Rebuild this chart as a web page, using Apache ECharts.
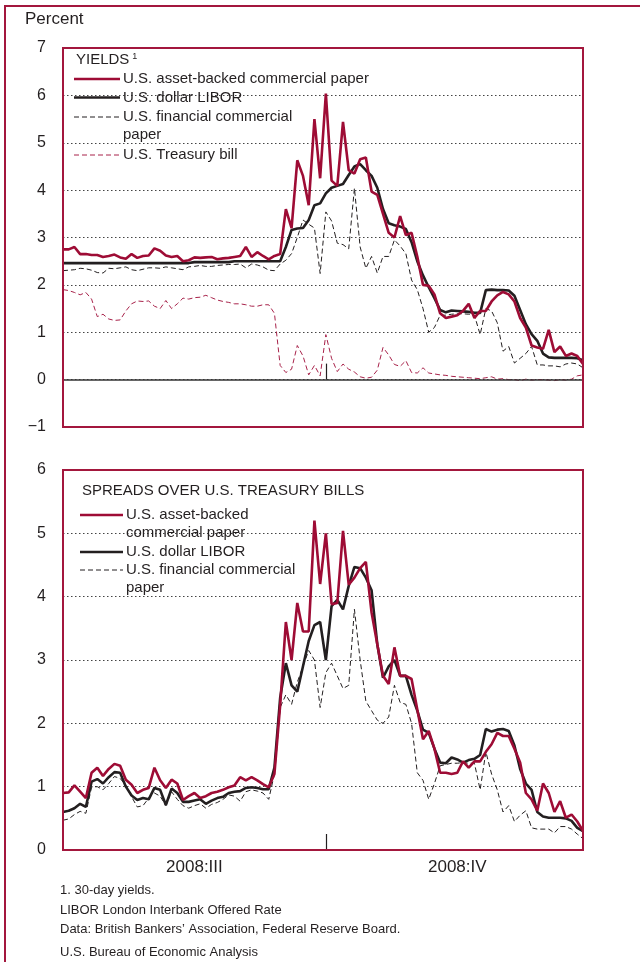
<!DOCTYPE html>
<html>
<head>
<meta charset="utf-8">
<title>Yields and spreads, 2008</title>
<script src="https://cdn.jsdelivr.net/npm/echarts@6.0.0/dist/echarts.min.js"></script>
<style>
  html, body { margin: 0; padding: 0; background: #fff; }
  #chart { width: 640px; height: 962px; }
</style>
</head>
<body>
<div id="chart"></div>
<script>
// every other calendar day, 2008-07-01 .. 2008-12-30 (92 points)
const days = [];
for (let d = new Date(Date.UTC(2008, 6, 1)); days.length < 92; d.setUTCDate(d.getUTCDate() + 2)) {
  days.push(d.toISOString().slice(0, 10));
}
const quarterLabels = ["2008:III", "2008:IV"];
const quarterLabelIdx = [23, 69];
const quarterTickIdx = 46; // 2008-10-01

// yields, percent
const abcpYield = [2.75, 2.75, 2.8, 2.65, 2.65, 2.63, 2.63, 2.59, 2.61, 2.64, 2.58, 2.55, 2.65, 2.57, 2.61, 2.62,
  2.77, 2.72, 2.62, 2.59, 2.61, 2.5, 2.52, 2.58, 2.57, 2.58, 2.59, 2.54, 2.56, 2.57, 2.59, 2.61,
  2.8, 2.59, 2.69, 2.61, 2.54, 2.61, 2.65, 3.6, 3.2, 4.63, 4.3, 3.68, 5.5, 4.25,
  6.04, 4.2, 4.09, 5.44, 4.42, 4.35, 4.65, 4.69, 3.97, 3.9, 3.5, 3.1, 3.0, 3.45, 3.05, 3.1,
  2.6, 2.0, 1.98, 1.8, 1.4, 1.3, 1.33, 1.36, 1.45, 1.6, 1.3, 1.45, 1.45, 1.65, 1.78, 1.85,
  1.8, 1.65, 1.3, 1.1, 0.72, 0.68, 0.65, 1.05, 0.58, 0.7, 0.5, 0.55, 0.5, 0.33];
const liborYield = [2.46, 2.46, 2.46, 2.46, 2.46, 2.46, 2.46, 2.46, 2.46, 2.46, 2.46, 2.46, 2.46, 2.46, 2.46, 2.46,
  2.46, 2.46, 2.46, 2.46, 2.46, 2.46, 2.46, 2.48, 2.48, 2.48, 2.48, 2.48, 2.48, 2.48, 2.5, 2.5,
  2.5, 2.5, 2.5, 2.5, 2.5, 2.5, 2.5, 2.8, 3.16, 3.19, 3.2, 3.37, 3.68, 3.72,
  3.93, 4.05, 4.09, 4.13, 4.32, 4.5, 4.55, 4.42, 4.3, 4.05, 3.6, 3.3, 3.26, 3.23, 3.18, 2.9,
  2.5, 2.2, 1.95, 1.72, 1.47, 1.42, 1.46, 1.45, 1.44, 1.43, 1.41, 1.41, 1.89, 1.9, 1.89, 1.89,
  1.88, 1.77, 1.47, 1.17, 0.96, 0.82, 0.55, 0.47, 0.46, 0.46, 0.46, 0.46, 0.45, 0.41];
const fincpYield = [2.3, 2.31, 2.32, 2.35, 2.34, 2.31, 2.26, 2.25, 2.35, 2.34, 2.36, 2.38, 2.32, 2.3, 2.33, 2.36,
  2.36, 2.35, 2.38, 2.36, 2.34, 2.32, 2.38, 2.39, 2.41, 2.39, 2.39, 2.41, 2.42, 2.43, 2.43, 2.44,
  2.36, 2.44, 2.42, 2.38, 2.31, 2.3, 2.44, 2.52, 2.66, 3.0, 3.37, 3.28, 3.2, 2.24,
  3.54, 3.35, 2.88, 2.85, 2.76, 4.04, 2.8, 2.35, 2.6, 2.25, 2.6, 2.6, 2.95, 2.82, 2.66, 2.1,
  1.9, 1.5, 1.0, 1.1, 1.36, 1.36, 1.38, 1.39, 1.39, 1.38, 1.36, 0.95, 1.5, 1.45, 1.2, 0.6,
  0.7, 0.35, 0.45, 0.55, 0.7, 0.31, 0.31, 0.29, 0.29, 0.27, 0.33, 0.35, 0.33, 0.25];
const tbillYield = [1.9, 1.88, 1.84, 1.79, 1.84, 1.7, 1.33, 1.38, 1.28, 1.25, 1.26, 1.45, 1.6, 1.66, 1.65, 1.66,
  1.55, 1.5, 1.67, 1.5, 1.6, 1.72, 1.7, 1.73, 1.74, 1.78, 1.73, 1.68, 1.65, 1.63, 1.6, 1.6,
  1.58, 1.55, 1.55, 1.58, 1.58, 1.4, 0.3, 0.15, 0.22, 0.72, 0.5, 0.1, 0.3, 0.08,
  0.95, 0.45, 0.17, 0.33, 0.22, 0.16, 0.06, 0.03, 0.05, 0.2, 0.68, 0.52, 0.32, 0.28, 0.4, 0.15,
  0.14, 0.25, 0.14, 0.12, 0.1, 0.09, 0.07, 0.06, 0.05, 0.04, 0.03, 0.02, 0.04, 0.06, 0.01, 0.02,
  0.0, 0.0, -0.02, 0.01, -0.01, 0.0, 0.0, -0.01, -0.02, 0.0, -0.01, 0.01, 0.08, 0.1];

// spreads over treasury bills, percentage points
const abcpSpread = [0.9, 0.91, 1.02, 0.92, 0.82, 1.22, 1.3, 1.17, 1.28, 1.36, 1.33, 1.11, 1.03, 0.9, 0.95, 0.98,
  1.3, 1.1, 0.98, 1.11, 1.05, 0.79, 0.85, 0.9, 0.82, 0.85, 0.9, 0.92, 0.95, 0.99, 1.02, 1.15,
  1.1, 1.15, 1.1, 1.04, 0.99, 1.2, 2.28, 3.6, 3.0, 3.9, 3.45, 3.45, 5.2, 4.2,
  5.0, 3.88, 3.9, 5.04, 4.19, 4.3, 4.45, 4.55, 3.75, 3.25, 2.75, 2.62, 3.2, 2.75, 2.75, 2.7,
  2.22, 1.75, 1.88, 1.6, 1.22, 1.22, 1.2, 1.22, 1.4, 1.3, 1.4, 1.4, 1.55, 1.67, 1.85, 1.8,
  1.8, 1.6, 1.38, 0.9, 0.8, 0.62, 1.05, 0.9, 0.6, 0.77, 0.51, 0.56, 0.45, 0.3];
const liborSpread = [0.6, 0.62, 0.66, 0.73, 0.68, 1.08, 1.12, 1.05, 1.15, 1.23, 1.22, 1.0, 0.86, 0.79, 0.82, 0.8,
  0.98, 0.95, 0.71, 0.97, 0.9, 0.76, 0.76, 0.78, 0.8, 0.73, 0.78, 0.82, 0.84, 0.9, 0.92, 0.93,
  0.98, 0.99, 0.98, 0.96, 0.96, 1.3, 2.4, 2.95, 2.6, 2.5, 2.9, 3.3, 3.55, 3.6,
  3.0, 3.85, 3.95, 3.8, 4.17, 4.47, 4.45, 4.3, 4.1, 3.25, 2.72, 2.9, 3.0, 2.75, 2.75, 2.45,
  2.2, 1.9, 1.85, 1.6, 1.38, 1.37, 1.46, 1.43, 1.38, 1.42, 1.44, 1.5, 1.91, 1.87, 1.9, 1.91,
  1.88, 1.65, 1.28, 1.05, 0.95, 0.6, 0.53, 0.51, 0.51, 0.51, 0.5, 0.46, 0.35, 0.3];
const fincpSpread = [0.47, 0.49, 0.56, 0.61, 0.58, 0.99, 1.0, 0.95, 1.05, 1.16, 1.13, 1.02, 0.84, 0.68, 0.7, 0.82,
  0.9, 0.85, 0.7, 0.92, 0.8, 0.7, 0.66, 0.7, 0.73, 0.66, 0.72, 0.75, 0.8, 0.87, 0.85, 0.77,
  0.92, 0.95, 0.93, 0.9, 0.8, 1.2, 2.25, 2.45, 2.3, 2.65, 2.9, 3.15, 3.0, 2.25,
  2.8, 2.95, 2.75, 2.55, 2.6, 3.8, 3.0, 2.35, 2.2, 2.05, 2.0, 2.1, 2.6, 2.33, 2.3, 2.0,
  1.22, 1.1, 0.8, 1.05, 1.33, 1.35, 1.37, 1.37, 1.38, 1.37, 1.37, 0.95, 1.55, 1.2, 0.95, 0.6,
  0.7, 0.45, 0.55, 0.62, 0.35, 0.33, 0.33, 0.33, 0.27, 0.37, 0.37, 0.33, 0.25, 0.18];

const yieldsTitle = "YIELDS";
const yieldsNames = ["U.S. asset-backed commercial paper", "U.S. dollar LIBOR",
  "U.S. financial commercial\npaper", "U.S. Treasury bill"];
const spreadsTitle = "SPREADS OVER U.S. TREASURY BILLS";
const spreadsNames = ["U.S. asset-backed\ncommercial paper", "U.S. dollar LIBOR",
  "U.S. financial commercial\npaper"];
const notes = ["1. 30-day yields.", "LIBOR London Interbank Offered Rate",
  "Data: British Bankers\u2019 Association, Federal Reserve Board."];
const credit = "U.S. Bureau of Economic Analysis";

const FONT = '"Liberation Sans", Arial, sans-serif';
const INK = "#231f20";
const RED = "#9e0c35";
const FRAME = "#a3173d";

const styles = {
  abcp: { color: RED, width: 2.6, type: "solid" },
  libor: { color: INK, width: 2.6, type: "solid" },
  fincp: { color: INK, width: 1, type: [5, 3] },
  tbill: { color: "#a8224a", width: 1, type: [5, 3] },
};

const chart = echarts.init(document.getElementById("chart"));

function xAxisFor(gridIndex, showLabels) {
  return {
    gridIndex,
    type: "category",
    data: days,
    boundaryGap: false,
    axisLine: { show: false },
    axisTick: {
      show: true,
      inside: true,
      length: 16,
      interval: (i) => i === quarterTickIdx,
      lineStyle: { color: INK, width: 1.2 },
    },
    axisLabel: {
      show: showLabels,
      interval: (i) => quarterLabelIdx.includes(i),
      formatter: (v, i) => quarterLabels[quarterLabelIdx.indexOf(i)] || "",
      color: INK,
      fontFamily: FONT,
      fontSize: 17,
      margin: 9,
    },
    splitLine: { show: false },
  };
}

function yAxisFor(gridIndex, min, max) {
  return {
    gridIndex,
    type: "value",
    min,
    max,
    interval: 1,
    axisLine: { show: false },
    axisTick: { show: false },
    axisLabel: {
      color: INK,
      fontFamily: FONT,
      fontSize: 16,
      margin: 17,
      formatter: (v) => String(v).replace("-", "\u2212"),
    },
    splitLine: { lineStyle: { color: "#444", width: 1, type: [1.5, 2.5] } },
  };
}

function line(name, data, st, xi, z) {
  return {
    name,
    type: "line",
    xAxisIndex: xi,
    yAxisIndex: xi,
    data,
    symbol: "none",
    smooth: false,
    z,
    lineStyle: { color: st.color, width: st.width, type: st.type },
  };
}

// legend block: small line sample + label, drawn as graphics
function legendBlock(x0, x1, tx, title, titleY, rows) {
  const out = [{
    type: "text", left: x0 + 2, top: titleY - 9, z: 50,
    style: {
      text: title === yieldsTitle ? "{a|" + title + "}{b|1}" : title,
      fill: INK, font: "15px " + FONT,
      rich: { a: { fontSize: 15, fontFamily: FONT, fill: INK },
              b: { fontSize: 9, fontFamily: FONT, fill: INK, verticalAlign: "top", padding: [0, 0, 0, 3] } },
    },
  }];
  rows.forEach((r) => {
    out.push({
      type: "line", z: 50,
      shape: { x1: x0, y1: r.y, x2: x1, y2: r.y },
      style: { stroke: r.st.color, lineWidth: r.st.width, lineDash: r.st.type === "solid" ? null : r.st.type },
    });
    out.push({
      type: "text", left: tx, top: r.y - 9, z: 50,
      style: { text: r.label, fill: INK, font: "15px " + FONT, lineHeight: 18 },
    });
  });
  return out;
}

const graphics = [
  // outer frame (only its left and top edges fall on the page)
  { type: "rect", z: 0, shape: { x: 5, y: 6, width: 700, height: 1000 },
    style: { fill: "none", stroke: FRAME, lineWidth: 2 } },
  { type: "text", left: 25, top: 11, style: { text: "Percent", fill: INK, font: "17px " + FONT } },
  // plot frames
  { type: "rect", z: 60, shape: { x: 63, y: 48, width: 520, height: 379 },
    style: { fill: "none", stroke: FRAME, lineWidth: 2 } },
  { type: "rect", z: 60, shape: { x: 63, y: 470, width: 520, height: 380 },
    style: { fill: "none", stroke: FRAME, lineWidth: 2 } },
  ...legendBlock(74, 120, 123, yieldsTitle, 61, [
    { y: 79, st: styles.abcp, label: yieldsNames[0] },
    { y: 97.5, st: styles.libor, label: yieldsNames[1] },
    { y: 117, st: styles.fincp, label: yieldsNames[2] },
    { y: 155, st: styles.tbill, label: yieldsNames[3] },
  ]),
  ...legendBlock(80, 123, 126, spreadsTitle, 492, [
    { y: 515, st: styles.abcp, label: spreadsNames[0] },
    { y: 552, st: styles.libor, label: spreadsNames[1] },
    { y: 570, st: styles.fincp, label: spreadsNames[2] },
  ]),
  { type: "text", left: 60, top: 881,
    style: { text: notes.join("\n"), fill: INK, font: "13px " + FONT, lineHeight: 19.5 } },
  { type: "text", left: 60, top: 946, style: { text: credit, fill: INK, font: "13px " + FONT } },
];

const libTop = line("U.S. dollar LIBOR", liborYield, styles.libor, 0, 4);
libTop.markLine = {
  silent: true, symbol: "none", label: { show: false },
  lineStyle: { color: "#333", width: 1.5, type: "solid" },
  data: [{ yAxis: 0 }],
};

chart.setOption({
  animation: false,
  backgroundColor: "#fff",
  textStyle: { fontFamily: FONT },
  grid: [
    { left: 63, top: 48, width: 520, height: 379 },
    { left: 63, top: 470, width: 520, height: 380 },
  ],
  xAxis: [xAxisFor(0, false), xAxisFor(1, true)],
  yAxis: [yAxisFor(0, -1, 7), yAxisFor(1, 0, 6)],
  series: [
    line("U.S. Treasury bill", tbillYield, styles.tbill, 0, 2),
    line("U.S. financial commercial paper", fincpYield, styles.fincp, 0, 3),
    libTop,
    line("U.S. asset-backed commercial paper", abcpYield, styles.abcp, 0, 5),
    line("U.S. financial commercial paper", fincpSpread, styles.fincp, 1, 3),
    line("U.S. dollar LIBOR", liborSpread, styles.libor, 1, 4),
    line("U.S. asset-backed commercial paper", abcpSpread, styles.abcp, 1, 5),
  ],
  graphic: graphics,
});
</script>
</body>
</html>
